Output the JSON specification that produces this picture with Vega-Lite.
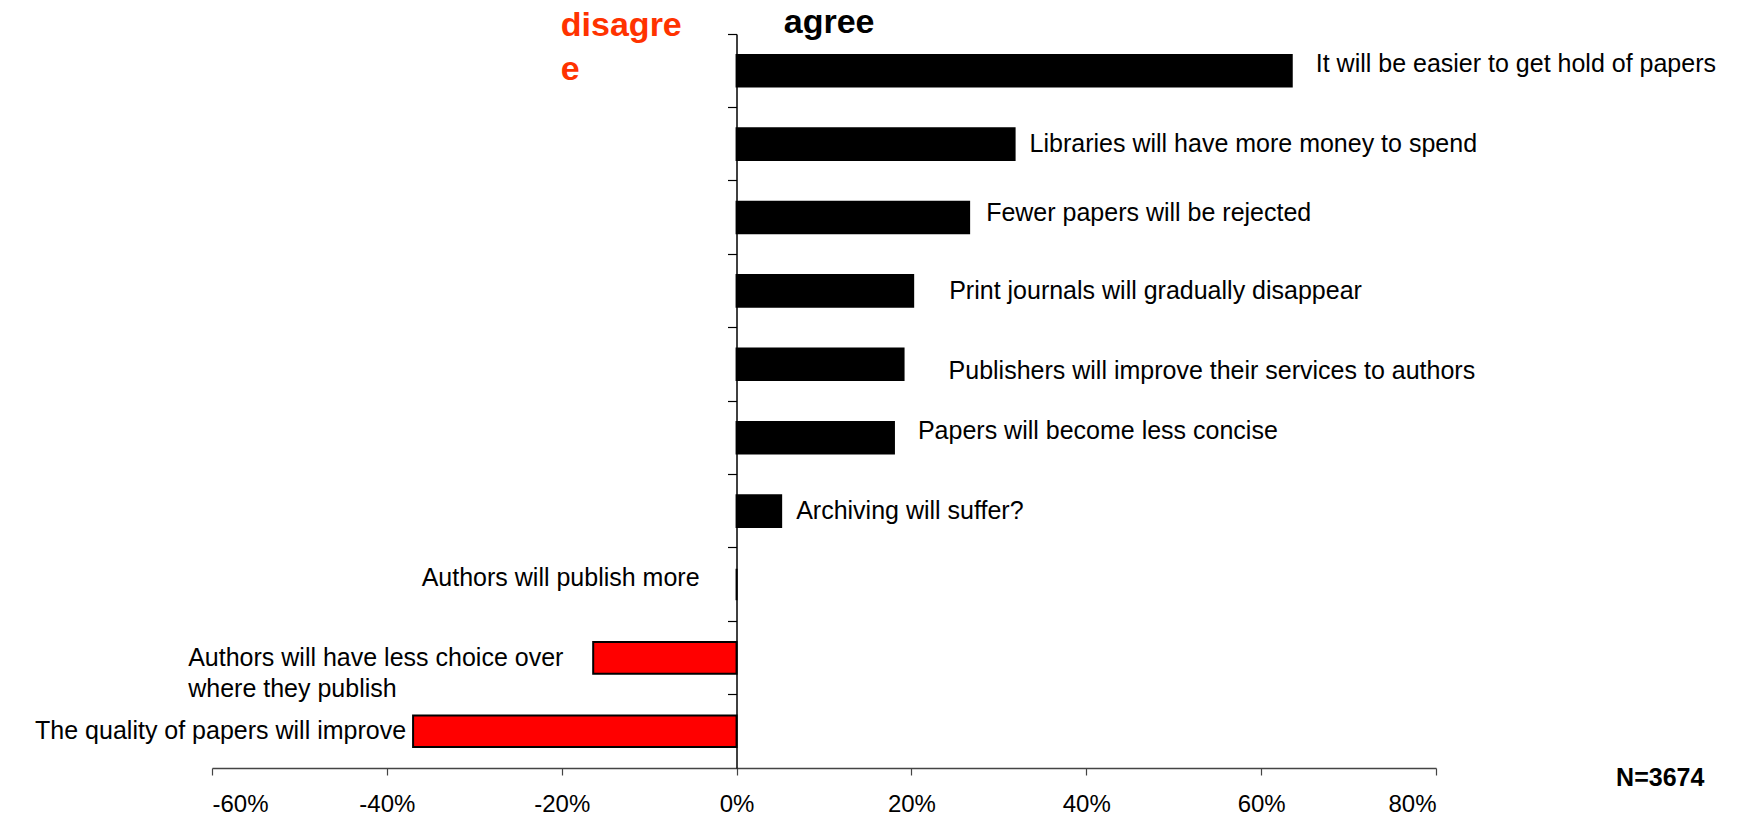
{
  "$schema": "https://vega.github.io/schema/vega-lite/v6.json",
  "autosize": {"type": "none"},
  "padding": {"left": 212, "top": 34, "right": 321, "bottom": 50},
  "width": 1224,
  "height": 734,
  "background": "#ffffff",
  "config": {"font": "Liberation Sans", "view": {"stroke": null}},
  "data": {"values": [
    {"s": "It will be easier to get hold of papers", "v": 63.5},
    {"s": "Libraries will have more money to spend", "v": 31.8},
    {"s": "Fewer papers will be rejected", "v": 26.6},
    {"s": "Print journals will gradually disappear", "v": 20.2},
    {"s": "Publishers will improve their services to authors", "v": 19.1},
    {"s": "Papers will become less concise", "v": 18.0},
    {"s": "Archiving will suffer?", "v": 5.1},
    {"s": "Authors will publish more", "v": 0},
    {"s": "Authors will have less choice over where they publish", "v": -16.4},
    {"s": "The quality of papers will improve", "v": -37.0}
  ]},
  "encoding": {
    "y": {"field": "s", "type": "nominal", "sort": null,
      "scale": {"paddingInner": 0, "paddingOuter": 0},
      "axis": {"labels": false, "title": null, "bandPosition": 0, "offset": -524.5, "domainColor": "#000000", "domainWidth": 1.5, "tickColor": "#000000", "tickWidth": 1.2, "tickSize": 9, "grid": false}},
    "x": {"field": "v", "type": "quantitative",
      "scale": {"domain": [-60, 80], "nice": false, "zero": false},
      "axis": {"values": [-60, -40, -20, 0, 20, 40, 60, 80], "labelExpr": "datum.value + '%'", "title": null, "grid": false, "domainColor": "#444444", "domainWidth": 1.5, "tickColor": "#444444", "tickSize": 7, "tickWidth": 1.2, "labelFontSize": 24, "labelColor": "#000000", "labelPadding": 17, "labelFont": "Liberation Sans"}}
  },
  "layer": [
    {"mark": {"type": "bar", "height": {"band": 0.43}, "stroke": "#000000", "strokeWidth": 2},
     "encoding": {"color": {"condition": {"test": "datum.v < 0", "value": "#FF0000"}, "value": "#000000"}}},
    {"transform": [{"filter": {"field": "s", "oneOf": ["Libraries will have more money to spend", "Archiving will suffer?"]}}],
     "mark": {"type": "text", "align": "left", "baseline": "middle", "dx": 15, "fontSize": 25, "color": "#000000"},
     "encoding": {"text": {"field": "s"}}},
    {"transform": [{"filter": {"field": "s", "oneOf": ["Fewer papers will be rejected"]}}],
     "mark": {"type": "text", "align": "left", "baseline": "middle", "dx": 17, "dy": -5, "fontSize": 25, "color": "#000000"},
     "encoding": {"text": {"field": "s"}}},
    {"transform": [{"filter": {"field": "s", "oneOf": ["It will be easier to get hold of papers", "Papers will become less concise"]}}],
     "mark": {"type": "text", "align": "left", "baseline": "middle", "dx": 24, "dy": -7, "fontSize": 25, "color": "#000000"},
     "encoding": {"text": {"field": "s"}}},
    {"transform": [{"filter": {"field": "s", "oneOf": ["Print journals will gradually disappear"]}}],
     "mark": {"type": "text", "align": "left", "baseline": "middle", "dx": 36, "fontSize": 25, "color": "#000000"},
     "encoding": {"text": {"field": "s"}}},
    {"transform": [{"filter": {"field": "s", "oneOf": ["Publishers will improve their services to authors"]}}],
     "mark": {"type": "text", "align": "left", "baseline": "middle", "dx": 45, "dy": 7, "fontSize": 25, "color": "#000000"},
     "encoding": {"text": {"field": "s"}}},
    {"transform": [{"filter": {"field": "s", "oneOf": ["Authors will publish more"]}}],
     "mark": {"type": "text", "align": "right", "baseline": "middle", "dx": -37, "dy": -7, "fontSize": 25, "color": "#000000"},
     "encoding": {"text": {"field": "s"}}},
    {"transform": [{"filter": {"field": "s", "oneOf": ["The quality of papers will improve"]}}],
     "mark": {"type": "text", "align": "right", "baseline": "middle", "dx": -7, "fontSize": 25, "color": "#000000"},
     "encoding": {"text": {"field": "s"}}},
    {"transform": [{"filter": {"field": "s", "oneOf": ["Authors will have less choice over where they publish"]}}],
     "mark": {"type": "text", "align": "left", "baseline": "middle", "dx": -405, "fontSize": 25, "lineHeight": 31, "color": "#000000",
       "text": ["\u00a0Authors will have less choice over", "where they publish"]}},
    {"transform": [{"filter": {"field": "s", "oneOf": ["It will be easier to get hold of papers"]}}],
     "mark": {"type": "text", "align": "left", "baseline": "alphabetic", "dy": -38, "fontSize": 34, "fontWeight": "bold", "color": "#000000", "text": "agree"},
     "encoding": {"x": {"datum": 5.4, "type": "quantitative"}}},
    {"transform": [{"filter": {"field": "s", "oneOf": ["It will be easier to get hold of papers"]}}],
     "mark": {"type": "text", "align": "left", "baseline": "alphabetic", "dy": -35, "fontSize": 34, "lineHeight": 44, "fontWeight": "bold", "color": "#FF3300", "text": ["disagre", "e"]},
     "encoding": {"x": {"datum": -20.1, "type": "quantitative"}}},
    {"transform": [{"filter": {"field": "s", "oneOf": ["The quality of papers will improve"]}}],
     "mark": {"type": "text", "align": "left", "baseline": "alphabetic", "dy": 55, "fontSize": 25, "fontWeight": "bold", "color": "#000000", "text": "N=3674"},
     "encoding": {"x": {"datum": 100.6, "type": "quantitative"}}}
  ]
}
